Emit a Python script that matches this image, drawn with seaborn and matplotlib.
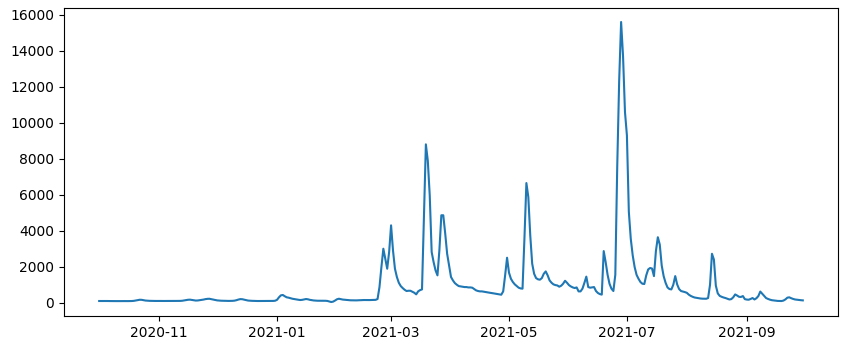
import matplotlib
matplotlib.use("Agg")
import matplotlib.pyplot as plt
import matplotlib.dates as mdates
import numpy as np
import pandas as pd
import seaborn as sns

start_date = "2020-10-01"

values = [
    95, 96, 94, 93, 95, 92, 90, 91, 93, 90,
    88, 90, 92, 91, 89, 90, 92, 95, 105, 125,
    150, 165, 160, 140, 120, 110, 105, 102, 100, 98,
    100, 98, 96, 95, 97, 100, 98, 96, 99, 102,
    100, 98, 102, 110, 130, 150, 165, 170, 155, 135,
    120, 125, 140, 155, 175, 200, 215, 220, 200, 175,
    150, 130, 120, 112, 108, 105, 102, 100, 100, 105,
    115, 140, 175, 200, 195, 170, 140, 120, 110, 105,
    100, 98, 95, 95, 94, 96, 95, 94, 96, 98,
    100, 110, 160, 300, 410, 430, 360, 300, 280, 250,
    220, 200, 180, 165, 150, 160, 185, 205, 190, 160,
    140, 125, 115, 110, 110, 112, 110, 108, 100, 70,
    40, 60, 120, 190, 222, 200, 175, 165, 150, 140,
    135, 132, 130, 130, 135, 140, 145, 150, 148, 145,
    148, 150, 150, 160, 205, 870, 1980, 3000, 2460, 1890,
    2820, 4300, 2900, 1890, 1430, 1110, 925, 815, 720, 650,
    665, 665, 610, 555, 465, 630, 700, 740, 4700, 8800,
    7890, 5960, 2815, 2260, 1800, 1520, 2930, 4860, 4860, 3850,
    2720, 2070, 1430, 1240, 1090, 1000, 925, 905, 890, 870,
    870, 850, 850, 835, 760, 685, 650, 630, 630, 610,
    590, 575, 555, 540, 520, 500, 480, 465, 445, 630,
    1520, 2500, 1670, 1330, 1150, 1020, 925, 835, 795, 780,
    3600, 6650, 5870, 3740, 2170, 1610, 1370, 1300, 1280, 1370,
    1610, 1740, 1520, 1240, 1110, 1020, 980, 960, 890, 945,
    1055, 1220, 1110, 980, 905, 850, 815, 850, 630, 630,
    780, 1100, 1450, 870, 835, 850, 870, 650, 540, 480,
    450, 2870, 2260, 1555, 1055, 780, 650, 1550, 7600, 12350,
    15600, 13700, 10600, 9300, 5050, 3550, 2630, 1980, 1550, 1330,
    1150, 1055, 1040, 1520, 1850, 1930, 1900, 1480, 2870, 3640,
    3230, 2070, 1480, 1110, 850, 760, 740, 1000, 1480, 1015,
    760, 650, 620, 590, 550, 450, 380, 330, 290, 270,
    250, 235, 225, 222, 220, 260, 1000, 2720, 2400, 950,
    520, 380, 330, 290, 260, 220, 180, 200, 300, 460,
    400, 330, 320, 370, 200, 175, 167, 210, 260, 180,
    250, 370, 620, 500, 380, 260, 210, 170, 140, 125,
    110, 100, 95, 94, 120, 185, 280, 300, 250, 210,
    180, 165, 150, 140, 130,
]

dates = pd.date_range(start_date, periods=len(values), freq="D")
df = pd.DataFrame({"date": dates, "value": values})

fig = plt.figure(figsize=(8.49, 3.51), dpi=100)
ax = fig.add_axes([64 / 849, 1 - 316 / 351, 774 / 849, 308 / 351])
sns.lineplot(data=df, x="date", y="value", ax=ax, color="#1f77b4", linewidth=1.5)
ax.set_xlabel("")
ax.set_ylabel("")
ax.xaxis.set_major_locator(mdates.MonthLocator(bymonth=[1, 3, 5, 7, 9, 11]))
ax.xaxis.set_major_formatter(mdates.DateFormatter("%Y-%m"))
ax.set_yticks(np.arange(0, 16001, 2000))
fig.savefig("out.png", dpi=100)
